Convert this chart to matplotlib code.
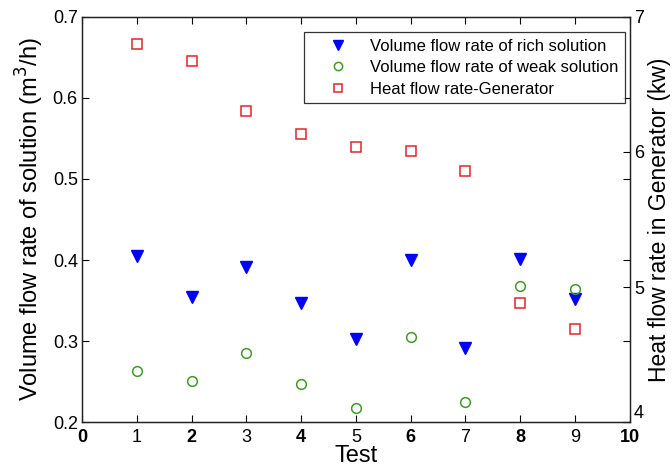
import matplotlib
matplotlib.use("Agg")
import matplotlib.pyplot as plt

plt.rcParams['font.family'] = ['Liberation Sans', 'DejaVu Sans']

tests = [1, 2, 3, 4, 5, 6, 7, 8, 9]
rich = [0.405, 0.354, 0.391, 0.347, 0.303, 0.400, 0.292, 0.401, 0.352]
weak = [0.263, 0.251, 0.285, 0.247, 0.217, 0.305, 0.225, 0.368, 0.364]
heat = [6.80, 6.67, 6.30, 6.13, 6.04, 6.01, 5.86, 4.88, 4.69]

xticks = list(range(0, 11))
yticks_left = [0.2, 0.3, 0.4, 0.5, 0.6, 0.7]
yticks_right = [4, 5, 6, 7]

fig = plt.figure(figsize=(6.72, 4.70), dpi=100)
ax1 = fig.add_axes([0.122, 0.102, 0.815, 0.862])
ax2 = ax1.twinx()

h1, = ax1.plot(tests, rich, linestyle='none', marker='v', markersize=8,
               markerfacecolor='#0000ff', markeredgecolor='#0000ff',
               label='Volume flow rate of rich solution')
h2, = ax1.plot(tests, weak, linestyle='none', marker='o', markersize=7,
               markerfacecolor='none', markeredgecolor='#3f9a2a', markeredgewidth=1.1,
               label='Volume flow rate of weak solution')
h3, = ax2.plot(tests, heat, linestyle='none', marker='s', markersize=7.5,
               markerfacecolor='none', markeredgecolor='#e0262e', markeredgewidth=1.1,
               label='Heat flow rate-Generator')

ax1.set_xlim(0, 10)
ax1.set_ylim(0.2, 0.7)
ax2.set_ylim(4, 7)
ax1.set_xticks(xticks)
ax1.set_xticklabels([str(v) for v in xticks])
for i, lab in enumerate(ax1.get_xticklabels()):
    if i % 2 == 0:
        lab.set_fontweight('bold')
ax1.set_yticks(yticks_left)
ax1.set_yticklabels(['%.1f' % v for v in yticks_left])
ax2.set_yticks(yticks_right)
ax2.set_yticklabels([str(v) for v in yticks_right])
ax2.get_yticklabels()[0].set_verticalalignment('bottom')

ax1.tick_params(axis='both', which='both', direction='in', length=5, width=0.8,
                labelsize=13, top=True, right=True, labelright=False, pad=3)
ax1.tick_params(axis='x', pad=5)
ax2.tick_params(axis='y', direction='in', length=5, width=0.8, labelsize=13, pad=3)

for ax in (ax1, ax2):
    for s in ax.spines.values():
        s.set_linewidth(0.9)
        s.set_color('#222222')

ax1.set_xlabel('Test', fontsize=17, labelpad=-1)
ax1.set_ylabel('Volume flow rate of solution (m$^3$/h)', fontsize=17, labelpad=5)
ax2.set_ylabel('Heat flow rate in Generator (kw)', fontsize=16.5, labelpad=3)

leg = ax1.legend(handles=[h1, h2, h3], loc='upper right', bbox_to_anchor=(0.992, 0.962),
                 fontsize=12, frameon=True, fancybox=False, edgecolor='black',
                 borderaxespad=0.0, handletextpad=0.3, borderpad=0.4,
                 labelspacing=0.38, handlelength=3.3, markerscale=0.85)
leg.get_frame().set_linewidth(0.9)
leg.set_zorder(5)

fig.savefig('out.png', dpi=100)
